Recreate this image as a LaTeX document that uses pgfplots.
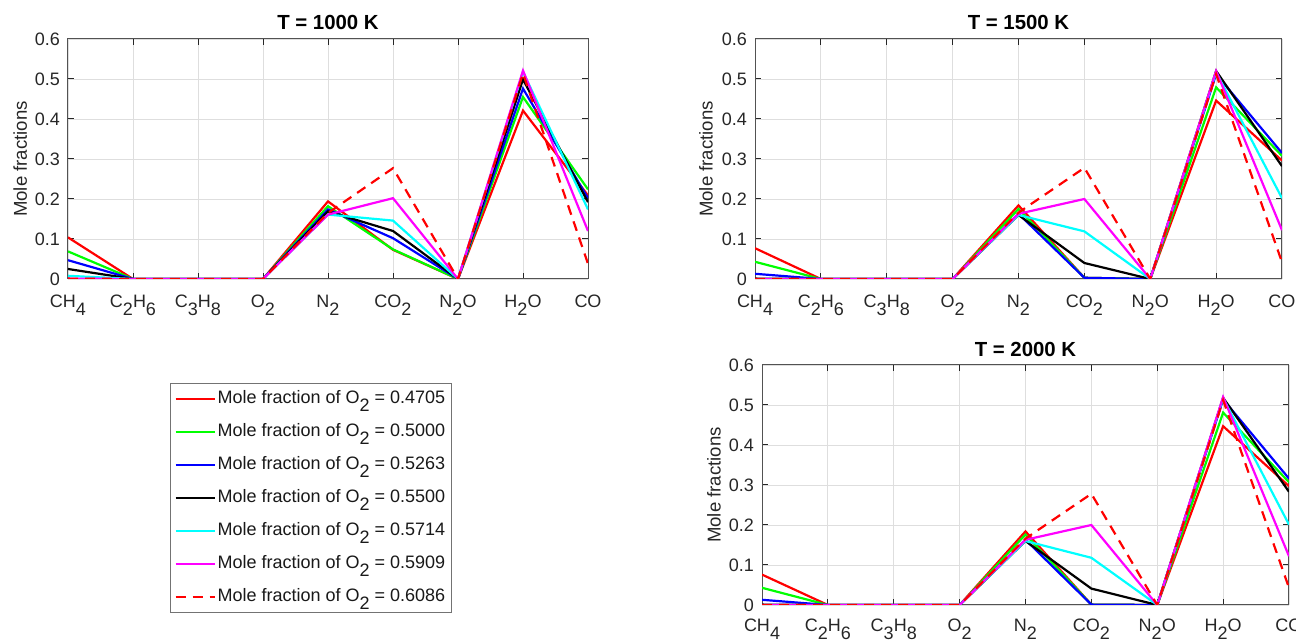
\documentclass[border=0pt]{standalone}
\usepackage{fontspec}
\setmainfont{Liberation Sans}
\usepackage{pgfplots}
\pgfplotsset{compat=1.18}
\usepackage{pgfplotstable}
\newcommand{\sub}[1]{\raisebox{-0.45em}{#1}}
\definecolor{axgray}{gray}{0.15}
\definecolor{mred}{rgb}{1,0,0}
\definecolor{mgreen}{rgb}{0,1,0}
\definecolor{mblue}{rgb}{0,0,1}
\definecolor{mcyan}{rgb}{0,1,1}
\definecolor{mmag}{rgb}{1,0,1}

\pgfplotstableread{
x r g b k c m d
0 0.104 0.069 0.047 0.025 0.008 0.001 0.001
1 0 0 0 0 0 0 0
2 0 0 0 0 0 0 0
3 0 0 0 0 0 0 0
4 0.194 0.182 0.174 0.169 0.161 0.161 0.165
5 0.073 0.074 0.102 0.120 0.146 0.202 0.277
6 0 0 0 0 0 0 0
7 0.421 0.455 0.476 0.499 0.518 0.521 0.514
8 0.209 0.224 0.202 0.192 0.174 0.120 0.038
}\tA

\pgfplotstableread{
x r g b k c m d
0 0.077 0.043 0.013 0.001 0 0 0
1 0 0 0 0 0 0 0
2 0 0 0 0 0 0 0
3 0 0 0 0 0 0 0
4 0.184 0.175 0.163 0.160 0.160 0.163 0.166
5 0.003 0.003 0.003 0.040 0.119 0.200 0.278
6 0 0 0 0 0 0 0
7 0.446 0.479 0.512 0.520 0.517 0.520 0.512
8 0.296 0.308 0.315 0.282 0.202 0.122 0.042
}\tB

\pgfplotstableread{
x r g b k c m d
0 0.076 0.043 0.013 0.001 0 0 0
1 0 0 0 0 0 0 0
2 0 0 0 0 0 0 0
3 0 0 0 0 0 0 0
4 0.184 0.176 0.163 0.160 0.160 0.163 0.166
5 0.001 0.001 0.001 0.041 0.118 0.200 0.278
6 0 0 0 0 0 0 0
7 0.447 0.481 0.514 0.518 0.517 0.520 0.512
8 0.297 0.307 0.316 0.283 0.201 0.122 0.043
}\tC

\pgfplotsset{
  mstyle/.style={
    scale only axis,
    xmin=0, xmax=8, ymin=0, ymax=0.6,
    xtick={0,1,2,3,4,5,6,7,8},
    xticklabels={CH\sub{4}, C\sub{2}H\sub{6}, C\sub{3}H\sub{8}, O\sub{2}, N\sub{2}, CO\sub{2}, N\sub{2}O, H\sub{2}O, CO},
    ytick={0,0.1,0.2,0.3,0.4,0.5,0.6},
    grid=major,
    major grid style={color=black!13, line width=0.4pt},
    axis line style={draw=axgray!80, line width=0.5pt},
    tick align=inside,
    major tick length=3pt,
    tick style={draw=axgray, line width=0.5pt},
    ticklabel style={font=\fontsize{9}{10}\selectfont, text=axgray},
    xticklabel style={yshift=-4.5pt},
    yticklabel style={xshift=-0.5pt},
    /pgf/number format/assume math mode=true,
    ylabel={Mole fractions},
    ylabel style={font=\fontsize{9.3}{10}\selectfont, text=axgray, anchor=center},
    title style={font=\bfseries\fontsize{10.2}{11}\selectfont, at={(axis description cs:0.5,1)}, anchor=base, yshift=-1.5pt},
    every axis plot/.append style={line width=1.1pt},
    legend image code/.code={\draw[##1] (0pt,0pt) -- (19.5pt,0pt);},
  },
  rr/.style={mred},
  gg/.style={mgreen},
  bb/.style={mblue},
  kk/.style={black},
  cc/.style={mcyan},
  mm/.style={mmag},
  dd/.style={mred, dash pattern=on 5pt off 3.5pt},
}

\begin{document}
\begin{tikzpicture}
\useasboundingbox (0,0) rectangle (648pt,320pt);

\begin{axis}[mstyle, at={(34pt,180.5pt)}, anchor=south west, width=260pt, height=120pt,
  title={T = 1000 K},
  ylabel style={at={(axis description cs:-0.092,0.5)}},
  legend cell align=left,
  legend style={at={(axis description cs:0.196,-0.433)}, anchor=north west,
    draw=black!55, line width=0.5pt, fill=white,
    font=\fontsize{9}{10}\selectfont, text=black!90,
    inner xsep=2pt, inner ysep=2pt, row sep=5pt,
    nodes={inner sep=1pt, text height=7pt, text depth=2.5pt}},
]
\addplot[rr] table[x=x,y=r]{\tA};
\addplot[gg] table[x=x,y=g]{\tA};
\addplot[bb] table[x=x,y=b]{\tA};
\addplot[kk] table[x=x,y=k]{\tA};
\addplot[cc] table[x=x,y=c]{\tA};
\addplot[mm] table[x=x,y=m]{\tA};
\addplot[dd] table[x=x,y=d]{\tA};
\legend{Mole fraction of O\sub{2} = 0.4705,
        Mole fraction of O\sub{2} = 0.5000,
        Mole fraction of O\sub{2} = 0.5263,
        Mole fraction of O\sub{2} = 0.5500,
        Mole fraction of O\sub{2} = 0.5714,
        Mole fraction of O\sub{2} = 0.5909,
        Mole fraction of O\sub{2} = 0.6086}
\end{axis}

\begin{axis}[mstyle, at={(377.5pt,180.5pt)}, anchor=south west, width=263.5pt, height=120pt,
  title={T = 1500 K},
  ylabel style={at={(axis description cs:-0.093,0.5)}}]
\addplot[rr] table[x=x,y=r]{\tB};
\addplot[gg] table[x=x,y=g]{\tB};
\addplot[bb] table[x=x,y=b]{\tB};
\addplot[kk] table[x=x,y=k]{\tB};
\addplot[cc] table[x=x,y=c]{\tB};
\addplot[mm] table[x=x,y=m]{\tB};
\addplot[dd] table[x=x,y=d]{\tB};
\end{axis}

\begin{axis}[mstyle, at={(381pt,17.5pt)}, anchor=south west, width=263.5pt, height=120pt,
  title={T = 2000 K}, title style={yshift=-0.35pt},
  xticklabel style={yshift=1.2pt},
  ylabel style={at={(axis description cs:-0.091,0.5)}}]
\addplot[rr] table[x=x,y=r]{\tC};
\addplot[gg] table[x=x,y=g]{\tC};
\addplot[bb] table[x=x,y=b]{\tC};
\addplot[kk] table[x=x,y=k]{\tC};
\addplot[cc] table[x=x,y=c]{\tC};
\addplot[mm] table[x=x,y=m]{\tC};
\addplot[dd] table[x=x,y=d]{\tC};
\end{axis}
\end{tikzpicture}
\end{document}
